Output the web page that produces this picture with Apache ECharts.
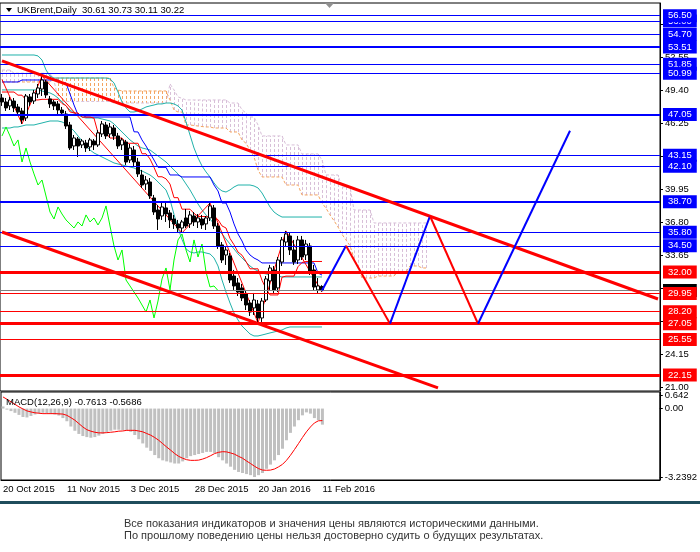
<!DOCTYPE html>
<html>
<head>
<meta charset="utf-8">
<title>UKBrent, Daily</title>
<script src="https://cdn.jsdelivr.net/npm/echarts@6.0.0/dist/echarts.min.js"></script>
<style>
  html, body { margin: 0; padding: 0; background: #fff; }
  #main { width: 700px; height: 552px; }
</style>
</head>
<body>
<div id="main"></div>
<script>
// UKBrent Daily, 20 Oct 2015 - 11 Feb 2016
var FONT = '"Liberation Sans", Arial, sans-serif';
var SLOTS = 165; // 81 bars + empty space to the right of the last bar

var dateLabels = ['20 Oct 2015', '11 Nov 2015', '3 Dec 2015', '28 Dec 2015', '20 Jan 2016', '11 Feb 2016'];
var dateSlots = [0, 16, 32, 48, 64, 80];

var opens = [48.63,48.25,47.87,48.34,47.77,47.39,46.72,48.73,48.34,49.01,
  49.49,50.16,48.54,48.25,48.06,47.48,47.10,46.05,44.04,44.71,
  44.14,44.33,43.95,44.52,44.14,45.19,46.05,45.19,45.76,45.00,
  44.14,44.42,42.70,43.66,42.51,41.27,40.41,40.60,39.07,37.92,
  37.35,38.12,37.64,37.06,36.59,36.20,37.16,36.59,37.35,36.78,
  37.06,36.59,37.16,38.12,36.39,34.58,33.62,33.53,31.61,30.95,
  30.47,29.89,29.03,28.56,28.94,27.60,29.32,31.14,32.19,30.47,
  32.95,34.86,35.44,34.10,33.14,35.06,33.62,34.48,32.19,30.28,
  30.61];
var closes = [48.25,47.68,48.44,47.68,47.29,46.53,48.82,48.25,49.11,49.59,
  50.35,48.92,48.06,47.87,47.48,47.20,45.95,43.85,44.81,44.04,
  44.52,43.85,44.62,44.14,45.29,46.15,45.00,45.86,45.00,44.04,
  44.62,42.51,43.85,42.51,41.37,40.31,40.79,39.26,37.73,37.06,
  38.21,37.54,36.97,36.59,36.20,36.78,36.39,37.45,36.78,37.16,
  36.49,37.16,38.31,36.39,34.48,33.14,34.10,31.23,30.66,30.08,
  29.51,28.84,28.17,29.32,27.60,29.22,31.33,32.38,30.28,33.14,
  35.06,35.63,34.10,32.95,35.06,33.43,34.67,32.00,30.56,30.66,
  30.22];
var lows = [47.87,47.39,47.48,47.29,47.01,46.15,46.43,47.87,48.06,48.63,
  48.82,48.63,47.68,47.48,47.10,46.91,45.67,43.66,43.66,42.99,
  43.85,43.47,43.56,43.66,43.95,44.90,44.71,44.81,44.62,43.76,
  43.66,42.23,42.42,42.13,41.08,40.03,39.84,38.98,37.45,36.01,
  36.97,36.78,36.20,36.11,35.73,35.82,36.20,36.20,36.39,36.20,
  36.11,36.01,36.87,36.11,34.20,32.86,32.67,30.95,30.28,29.70,
  29.22,28.36,27.79,27.89,27.12,27.22,29.13,30.28,29.99,30.08,
  32.57,34.39,33.62,32.67,32.76,33.14,33.14,31.71,30.18,29.99,
  30.11];
var highs = [49.01,48.63,48.73,48.63,48.06,47.68,49.01,49.01,49.40,49.97,
  50.73,50.35,48.82,48.44,48.34,47.77,47.39,46.34,45.09,44.90,
  44.71,44.62,44.81,44.71,45.57,46.43,46.34,46.24,46.05,45.29,
  44.81,44.62,44.23,44.04,42.90,41.75,41.17,40.98,39.36,38.40,
  38.59,38.59,37.92,37.45,36.97,36.97,38.02,37.83,37.73,37.54,
  37.45,37.35,38.59,38.40,36.68,34.86,34.48,33.81,32.19,31.42,
  30.85,30.28,29.32,29.99,29.32,29.51,31.61,32.67,32.57,33.43,
  35.34,35.92,35.73,35.06,35.44,35.44,35.06,34.77,32.67,31.42,
  30.73];

// Ichimoku
var tenkan = [49.20,49.20,49.20,49.20,48.90,48.90,48.44,48.44,48.44,48.44,
  48.50,48.50,48.50,48.50,48.50,48.10,47.90,47.30,47.20,47.20,
  46.80,46.80,46.80,46.70,45.30,45.30,45.30,44.80,44.80,44.80,
  44.80,44.30,44.30,44.30,44.30,43.30,43.30,42.80,42.00,41.10,
  41.10,40.90,40.40,39.10,39.10,38.00,38.00,38.00,37.60,37.30,
  37.30,37.30,37.20,37.20,37.00,36.40,36.20,35.20,34.60,33.90,
  33.60,33.00,32.30,32.30,32.30,31.20,30.40,29.80,29.80,29.80,
  31.50,31.60,31.60,31.60,32.50,32.90,33.00,33.00,33.00,33.00,
  33.00];
var kijun = [50.16,50.16,50.16,50.16,50.16,50.35,50.35,50.35,50.35,50.35,
  50.35,50.35,50.35,50.35,50.35,50.07,50.07,49.01,47.96,47.01,
  47.01,46.81,46.81,46.81,46.81,46.81,46.81,46.81,46.81,46.81,
  46.81,46.81,46.81,45.40,45.38,44.62,44.04,43.37,42.70,42.00,
  42.00,42.00,41.27,41.27,41.27,41.08,41.08,41.08,41.08,41.08,
  41.08,41.08,41.08,40.31,39.74,38.59,38.59,37.73,36.59,35.63,
  34.96,34.10,33.62,33.33,33.14,32.86,32.86,32.86,32.86,32.86,
  32.86,32.86,32.86,32.86,32.86,32.86,32.86,32.86,32.86,31.90,
  31.70];
var spanA = [50.16,50.16,50.16,50.16,50.16,50.16,50.16,50.16,50.16,50.16,
  50.16,50.16,50.16,50.45,50.54,50.54,50.54,50.54,50.54,50.54,
  50.54,50.54,50.54,50.54,50.54,50.54,50.54,50.54,49.60,49.40,
  49.30,49.30,49.30,49.30,49.30,49.30,49.30,49.30,49.30,49.30,
  49.30,49.30,48.44,47.48,47.29,47.29,46.05,46.05,46.00,45.95,
  45.90,45.86,45.86,45.76,45.76,45.76,45.76,45.38,45.38,45.38,
  44.62,44.30,43.66,42.99,41.75,41.08,41.08,41.08,41.08,41.08,
  41.08,40.31,40.31,40.31,40.31,39.36,39.36,39.36,39.36,39.36,
  38.59,38.10,37.45,36.90,36.30,35.60,35.06,34.50,33.30,32.40,
  31.42,31.42,31.42,31.42,31.61,31.61,31.61,31.61,31.61,32.00,
  32.00,32.00,32.57,32.57,32.57,32.38,32.38];
var spanB = [51.30,51.30,51.30,51.00,51.00,51.00,51.00,51.00,51.00,51.00,
  51.00,51.00,51.00,50.30,48.60,48.30,48.30,48.30,48.30,48.30,
  48.30,48.30,48.30,48.30,48.30,48.30,48.30,48.30,48.15,48.15,
  48.15,48.15,48.15,48.15,48.15,48.15,48.15,48.15,48.15,48.15,
  48.15,48.15,49.97,49.40,48.73,48.60,48.44,48.44,48.44,48.44,
  48.44,48.44,48.44,48.44,48.44,48.44,48.44,48.15,48.15,48.15,
  47.50,47.20,46.81,46.81,46.05,45.00,45.00,45.00,45.00,45.00,
  45.00,44.14,44.14,44.14,44.14,43.28,43.28,43.28,43.28,43.28,
  42.70,41.27,41.27,41.27,41.27,40.12,40.12,40.12,37.92,37.92,
  37.92,37.92,37.92,36.68,36.68,36.68,36.68,36.68,36.68,36.68,
  36.68,36.68,36.68,36.68,36.68,36.68,36.68];
var chikouShift = 26;

// Bollinger bands
var bbUp = [52.74,52.74,52.74,52.74,52.74,52.74,52.74,52.74,52.74,52.65,
  52.26,51.31,50.73,50.54,50.54,50.54,50.54,50.54,50.54,50.54,
  50.54,50.54,50.54,50.54,50.54,50.54,50.54,50.45,50.07,49.20,
  48.25,47.68,47.29,47.29,47.39,47.58,47.77,47.87,47.96,48.06,
  48.06,48.15,48.15,48.06,47.87,47.48,46.34,45.09,43.85,42.90,
  42.13,41.56,41.08,40.51,40.03,39.74,39.64,39.84,40.12,40.31,
  40.31,40.31,40.31,40.22,40.03,39.55,38.88,38.21,37.73,37.45,
  37.25,37.25,37.25,37.25,37.25,37.25,37.25,37.25,37.25,37.25,
  37.25];
var bbMid = [49.40,49.40,49.40,49.40,49.40,49.40,49.40,49.40,49.40,49.40,
  49.30,49.20,49.11,48.92,48.63,48.25,47.87,47.48,47.20,47.01,
  46.81,46.72,46.72,46.72,46.72,46.62,46.53,46.43,46.15,45.76,
  45.38,45.00,44.62,44.33,44.04,43.85,43.76,43.66,43.37,43.09,
  42.80,42.51,42.13,41.75,41.37,40.98,40.41,39.84,39.17,38.50,
  37.92,37.45,37.06,36.59,36.11,35.63,35.15,34.67,34.20,33.72,
  33.34,32.95,32.57,32.28,32.09,31.90,31.81,31.71,31.61,31.61,
  31.52,31.52,31.52,31.52,31.52,31.52,31.52,31.52,31.52,31.52,
  31.52];
var bbLow = [45.76,45.76,45.76,45.86,45.86,45.95,46.05,46.05,46.05,46.15,
  46.24,46.34,46.43,46.43,46.43,46.34,46.15,45.86,45.48,45.00,
  44.52,44.04,43.66,43.37,43.18,42.99,42.80,42.61,42.42,42.32,
  42.23,42.13,42.03,41.94,41.75,41.65,41.46,41.27,40.98,40.60,
  40.22,39.84,38.90,37.50,36.20,35.10,34.20,33.91,33.81,33.91,
  33.91,33.81,33.72,33.34,32.57,31.23,30.08,29.03,28.08,27.41,
  26.83,26.45,26.07,25.88,25.88,25.97,26.07,26.17,26.26,26.36,
  26.45,26.64,26.74,26.74,26.74,26.74,26.74,26.74,26.74,26.74,
  26.74];

// ZigZag turning points
var zzSlots = [0, 5, 10, 45, 52, 64, 71, 80];
var zzVals = [50.40, 46.15, 50.73, 35.73, 38.59, 27.12, 35.92, 30.11];

// drawn objects
var upperTrendSlots = [0, 164];
var upperTrendVals = [52.17, 29.41];
var lowerTrendSlots = [0, 109];
var lowerTrendVals = [35.82, 20.91];
var forecastSlots = [80, 86, 97, 107, 119, 142];
var forecastVals = [30.22, 34.50, 27.05, 37.35, 27.05, 45.50];

var blueLevels = [56.00, 56.50, 54.70, 53.51, 51.85, 50.99, 47.05, 43.15, 42.10, 38.70, 35.80, 34.50];
var blueWidths = [1, 1, 1, 2, 1, 1, 2, 1, 1, 2, 1, 1];
var redLevels = [32.00, 29.95, 28.20, 27.05, 25.55, 22.15];
var redWidths = [3, 1, 1, 3, 1, 3];
var lastPrice = 30.22;

var priceTicks = [21.00, 24.15, 27.31, 30.46, 33.62, 36.77, 39.93, 43.08, 46.24, 49.39, 52.55, 55.70];
var priceTickLabels = ['21.00', '24.15', '27.30', '30.50', '33.65', '36.80', '39.95', '43.10', '46.25', '49.40', '52.55', '55.70'];

// MACD(12,26,9)
var macdHist = [0.10,-0.05,-0.12,-0.20,-0.30,-0.40,-0.42,-0.35,-0.28,-0.22,
  -0.20,-0.22,-0.25,-0.28,-0.33,-0.45,-0.60,-0.85,-1.05,-1.20,
  -1.30,-1.35,-1.38,-1.35,-1.28,-1.20,-1.12,-1.05,-1.00,-1.00,
  -1.02,-1.05,-1.10,-1.25,-1.45,-1.65,-1.85,-2.00,-2.20,-2.35,
  -2.45,-2.50,-2.55,-2.60,-2.60,-2.50,-2.35,-2.25,-2.20,-2.15,
  -2.10,-2.05,-2.05,-2.10,-2.30,-2.45,-2.60,-2.75,-2.90,-3.00,
  -3.05,-3.10,-3.15,-3.24,-3.15,-3.05,-2.85,-2.65,-2.45,-2.20,
  -1.90,-1.50,-1.15,-0.85,-0.55,-0.32,-0.18,-0.24,-0.45,-0.55,
  -0.7613];
var macdSignal = [0.55,0.44,0.32,0.20,0.08,-0.02,-0.11,-0.16,-0.20,-0.22,
  -0.24,-0.24,-0.24,-0.24,-0.25,-0.26,-0.32,-0.43,-0.55,-0.71,
  -0.87,-1.00,-1.07,-1.12,-1.15,-1.15,-1.14,-1.12,-1.10,-1.07,
  -1.06,-1.03,-1.03,-1.03,-1.06,-1.10,-1.18,-1.26,-1.37,-1.50,
  -1.66,-1.82,-1.97,-2.13,-2.26,-2.35,-2.42,-2.45,-2.45,-2.44,
  -2.39,-2.32,-2.23,-2.13,-2.07,-2.04,-2.05,-2.10,-2.16,-2.26,
  -2.35,-2.48,-2.60,-2.73,-2.84,-2.91,-2.92,-2.91,-2.86,-2.76,
  -2.64,-2.45,-2.21,-1.94,-1.66,-1.37,-1.10,-0.87,-0.68,-0.58,
  -0.5686];
var macdTicks = [0.642, 0, -3.2392];
var macdTickLabels = ['0.642', '0.00', '-3.2392'];

// ---- build what the library needs ----
var categories = [];
for (var s = 0; s < SLOTS; s++) {
  var k = dateSlots.indexOf(s);
  categories.push(k >= 0 ? dateLabels[k] : '');
}
var candles = opens.map(function (o, i) { return [o, closes[i], lows[i], highs[i]]; });
var chikou = closes.slice(chikouShift);
var cloud = spanA.map(function (a, i) { return [i, a, spanB[i]]; });
function pairs(xs, ys) { return xs.map(function (x, i) { return [x, ys[i]]; }); }

function lineSeries(data, color, width, extra) {
  var s = {
    type: 'line', data: data, symbol: 'none', silent: true,
    xAxisIndex: 0, yAxisIndex: 0,
    lineStyle: { color: color, width: width }, z: 3
  };
  for (var key in extra) s[key] = extra[key];
  return s;
}

function levelItem(v, color, width) {
  return {
    yAxis: v,
    lineStyle: { color: color, width: width, type: 'solid' },
    label: { backgroundColor: color }
  };
}

var levelData = [];
blueLevels.forEach(function (v, i) { levelData.push(levelItem(v, '#0000ff', blueWidths[i])); });
redLevels.forEach(function (v, i) { levelData.push(levelItem(v, '#ff0000', redWidths[i])); });

var labelStyle = {
  show: true, position: 'end', distance: 3,
  formatter: function (p) { return p.value.toFixed(2); },
  color: '#fff', fontFamily: FONT, fontSize: 9.5,
  padding: [2, 5, 1, 5]
};

var series = [];

// Ichimoku cloud hatch
series.push({
  type: 'custom', xAxisIndex: 0, yAxisIndex: 0, silent: true, z: 1,
  data: cloud,
  encode: { x: 0, y: [1, 2] },
  renderItem: function (params, api) {
    var i = api.value(0), a = api.value(1), b = api.value(2);
    var pa = api.coord([i, a]), pb = api.coord([i, b]);
    var x = Math.round(pa[0]) + 0.5;
    return {
      type: 'line',
      shape: { x1: x, y1: pa[1], x2: x, y2: pb[1] },
      style: { stroke: a >= b ? '#F4A460' : '#D8BFD8', lineWidth: 1, lineDash: [3, 2] }
    };
  }
});
series.push(lineSeries(spanA, '#F4A460', 1, { z: 1, lineStyle: { color: '#F4A460', width: 1, type: [3, 2] } }));
series.push(lineSeries(spanB, '#D8BFD8', 1, { z: 1, lineStyle: { color: '#D8BFD8', width: 1, type: [3, 2] } }));

// Bollinger
series.push(lineSeries(bbUp, '#20B2AA', 1));
series.push(lineSeries(bbMid, '#20B2AA', 1));
series.push(lineSeries(bbLow, '#20B2AA', 1));

// Ichimoku lines
series.push(lineSeries(chikou, '#00ff00', 1));
series.push(lineSeries(kijun, '#0000ff', 1));
series.push(lineSeries(tenkan, '#ff0000', 1));
series.push(lineSeries(pairs(zzSlots, zzVals), '#ff0000', 1));

// candles
series.push({
  type: 'candlestick', xAxisIndex: 0, yAxisIndex: 0, silent: true, z: 4,
  data: candles, barWidth: 3,
  itemStyle: { color: '#fff', color0: '#000', borderColor: '#000', borderColor0: '#000', borderWidth: 1 }
});

// current price line
series.push(lineSeries([], '#808080', 1, {
  z: 5,
  markLine: {
    symbol: 'none', silent: true, animation: false,
    label: labelStyle,
    data: [{ yAxis: lastPrice, lineStyle: { color: '#808080', width: 1, type: 'solid' }, label: { backgroundColor: '#000' } }]
  }
}));

// horizontal levels
series.push(lineSeries([], '#0000ff', 1, {
  z: 6,
  markLine: { symbol: 'none', silent: true, animation: false, label: labelStyle, data: levelData }
}));

// channel lines
series.push(lineSeries(pairs(upperTrendSlots, upperTrendVals), '#ff0000', 3, { z: 7 }));
series.push(lineSeries(pairs(lowerTrendSlots, lowerTrendVals), '#ff0000', 3, { z: 7 }));

// forecast path: rising legs blue, falling legs red
for (var f = 0; f < forecastSlots.length - 1; f++) {
  var up = forecastVals[f + 1] > forecastVals[f];
  series.push(lineSeries(
    pairs(forecastSlots.slice(f, f + 2), forecastVals.slice(f, f + 2)),
    up ? '#0000ff' : '#ff0000', 2, { z: 8 }));
}

// MACD panel
series.push({
  type: 'bar', xAxisIndex: 1, yAxisIndex: 1, silent: true,
  data: macdHist, barWidth: 3, itemStyle: { color: '#c0c0c0' }
});
series.push({
  type: 'line', xAxisIndex: 1, yAxisIndex: 1, silent: true,
  data: macdSignal, symbol: 'none', lineStyle: { color: '#ff0000', width: 1 }, z: 3
});

var chart = echarts.init(document.getElementById('main'));
var option = {
  animation: false,
  backgroundColor: '#fff',
  textStyle: { fontFamily: FONT },
  grid: [
    { left: 0, top: 3, width: 660, height: 388, show: true, borderColor: '#000', borderWidth: 1, backgroundColor: '#fff' },
    { left: 0, top: 392, width: 660, height: 88, show: true, borderColor: '#000', borderWidth: 1, backgroundColor: '#fff' }
  ],
  xAxis: [
    { type: 'category', gridIndex: 0, data: categories, show: false },
    {
      type: 'category', gridIndex: 1, data: categories,
      axisLine: { onZero: false, lineStyle: { color: '#000' } },
      axisTick: {
        alignWithLabel: true, length: 4, lineStyle: { color: '#000' },
        interval: function (i, v) { return v !== ''; }
      },
      axisLabel: {
        interval: function (i, v) { return v !== ''; },
        align: 'left', margin: 4, color: '#000', fontSize: 9.5, fontFamily: FONT
      },
      splitLine: { show: false }
    }
  ],
  yAxis: [
    {
      type: 'value', gridIndex: 0, position: 'right', min: 20.618, max: 57.71,
      splitLine: { show: false },
      axisLine: { show: true, lineStyle: { color: '#000' } },
      axisTick: { show: true, length: 3, customValues: priceTicks, lineStyle: { color: '#000' } },
      axisLabel: {
        customValues: priceTicks, margin: 5, color: '#000', fontSize: 9.5, fontFamily: FONT,
        formatter: function (v) {
          var k = priceTicks.indexOf(v);
          return k >= 0 ? priceTickLabels[k] : '';
        }
      }
    },
    {
      type: 'value', gridIndex: 1, position: 'right', min: -3.38, max: 0.784,
      splitLine: { show: false },
      axisLine: { show: true, lineStyle: { color: '#000' } },
      axisTick: { show: true, length: 3, customValues: macdTicks, lineStyle: { color: '#000' } },
      axisLabel: {
        customValues: macdTicks, margin: 5, color: '#000', fontSize: 9.5, fontFamily: FONT,
        formatter: function (v) {
          var k = macdTicks.indexOf(v);
          return k >= 0 ? macdTickLabels[k] : '';
        }
      }
    }
  ],
  graphic: [
    { type: 'polygon', shape: { points: [[6, 8], [12, 8], [9, 12]] }, style: { fill: '#000' }, z: 100 },
    { type: 'text', x: 17, y: 10, z: 100,
      style: { text: 'UKBrent,Daily  30.61 30.73 30.11 30.22', fill: '#000', font: '9.5px ' + FONT, verticalAlign: 'middle' } },
    { type: 'polygon', shape: { points: [[325, 3], [334, 3], [329.5, 8]] }, style: { fill: '#909090' }, z: 100 },
    { type: 'text', x: 6, y: 402, z: 100,
      style: { text: 'MACD(12,26,9) -0.7613 -0.5686', fill: '#000', font: '9.5px ' + FONT, verticalAlign: 'middle' } },
    { type: 'rect', shape: { x: 0, y: 501, width: 700, height: 3 }, style: { fill: '#1f4d5c' }, z: 100 },
    { type: 'text', x: 124, y: 524, z: 100,
      style: { text: 'Все показания индикаторов и значения цены являются историческими данными.', fill: '#333', font: '11px ' + FONT, verticalAlign: 'middle' } },
    { type: 'text', x: 124, y: 536, z: 100,
      style: { text: 'По прошлому поведению цены нельзя достоверно судить о будущих результатах.', fill: '#333', font: '11px ' + FONT, verticalAlign: 'middle' } }
  ],
  series: series
};
option && chart.setOption(option);
</script>
</body>
</html>
